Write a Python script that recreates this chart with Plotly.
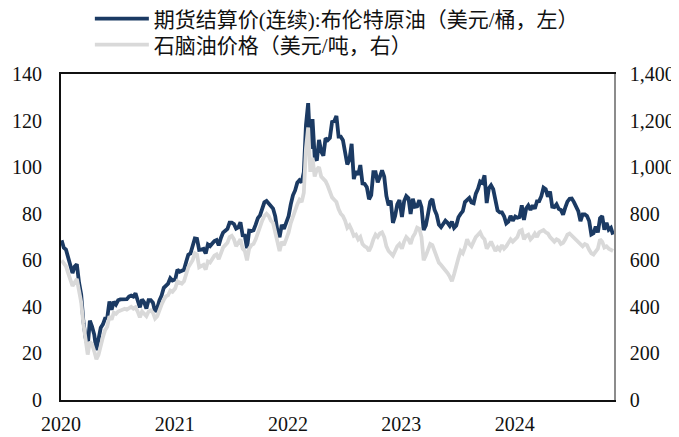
import pandas as pd
import plotly.graph_objects as go

# ---- Data (weekly readings from the chart) ----
brent_2020 = [68.6, 65.4, 64.6, 60.7, 58.2,
              54.5, 57.3, 58.3, 50.5,
              45.3, 33.9, 26.9, 23.0,
              34.1, 31.5, 28.1, 21.4, 26.4,
              31.0, 32.5, 35.1, 35.3,
              42.3, 38.7, 42.2, 41.0,
              42.8, 43.2, 43.1, 43.3, 43.3,
              44.4, 44.8, 44.4, 45.8,
              42.7, 39.8, 43.2, 41.9,
              39.3, 42.9, 42.9, 41.8, 37.9,
              39.5, 42.8, 44.9, 48.2,
              49.3, 50.0, 52.3, 51.3]
brent_2021 = [51.8, 56.0, 55.1, 55.4, 55.9,
              59.3, 62.4, 62.9, 66.1,
              69.4, 69.2, 64.5, 64.6,
              64.9, 62.9, 66.8, 66.1, 67.3,
              68.3, 68.7, 66.4, 69.6,
              71.9, 72.7, 73.5, 76.2,
              76.2, 75.6, 73.6, 74.1, 76.3,
              70.7, 70.6, 65.2, 72.7,
              72.6, 72.9, 75.3, 78.1,
              79.3, 82.4, 84.9, 85.5, 84.4,
              82.7, 82.2, 78.9, 72.7,
              69.9, 75.2, 73.5, 76.1]
brent_2022 = [79.0, 84.0, 87.9, 90.0,
              93.3, 94.4, 93.5, 97.9,
              118.1, 127.5, 107.9, 120.6, 104.4,
              102.8, 111.7, 106.7, 104.9,
              112.4, 111.6, 112.6, 119.4,
              119.7, 122.0, 113.1, 113.1, 111.6,
              107.0, 101.2, 103.2, 110.0,
              94.9, 98.2, 96.7, 100.9,
              93.0, 92.8, 91.4, 86.2, 88.0,
              97.9, 97.9, 93.5, 95.8,
              98.6, 95.9, 87.6, 83.6,
              85.6, 76.1, 79.0, 84.0, 85.9]
brent_2023 = [78.6, 85.3, 87.6, 86.7, 79.9, 86.4, 83.0, 83.2, 85.8, 82.8,
              73.0, 75.0, 79.8, 85.1, 86.3, 81.7, 79.5, 75.3, 74.2, 75.6,
              77.0, 76.1, 74.8, 76.6, 73.9, 74.9, 78.5, 79.9, 81.1, 85.0,
              86.2, 86.8, 84.8, 84.5, 88.6, 90.7, 93.9, 93.3, 96.5, 84.6,
              90.9, 92.2, 90.5, 84.9, 81.4, 80.6, 80.6, 78.9, 75.8, 76.6,
              79.1, 77.0]
brent_2024 = [78.8, 78.3, 78.6, 83.6, 77.3, 82.2, 83.5, 81.6, 83.6, 82.1,
              85.3, 85.4, 87.5, 91.2, 90.5, 87.3, 89.5, 83.0, 82.8, 84.0,
              82.1, 81.6, 79.6, 82.6, 85.2, 86.4, 86.5, 85.0, 82.6, 81.1,
              76.8, 79.7, 79.7, 79.0, 76.9, 71.1, 71.6, 74.5, 72.0, 78.1,
              79.0, 73.1, 76.1, 73.1, 73.9, 71.0]

naphtha_2020 = [600, 585, 575, 545, 520,
                490, 505, 520, 470,
                420, 330, 245, 195,
                250, 240, 210, 175, 195,
                240, 270, 300, 315,
                360, 345, 375, 370,
                380, 385, 390, 392, 388,
                395, 400, 392, 398,
                380, 355, 380, 370,
                360, 380, 385, 375, 350,
                360, 390, 410, 430,
                445, 450, 470, 465]
naphtha_2021 = [480, 510, 505, 500, 510,
                540, 570, 585, 600,
                630, 625, 570, 575,
                580, 560, 595, 590, 605,
                620, 625, 605, 630,
                655, 665, 675, 700,
                705, 690, 660, 675, 690,
                650, 640, 600, 650,
                665, 670, 690, 720,
                740, 770, 790, 800, 790,
                770, 760, 720, 670,
                640, 680, 665, 690]
naphtha_2022 = [720, 760, 790, 810,
                840, 860, 850, 890,
                1080, 1170, 980, 1040, 960,
                990, 1000, 960, 950,
                940, 920, 890, 870,
                860, 850, 820, 800, 790,
                770, 740, 750, 730,
                705, 710, 690, 700,
                670, 660, 655, 640, 660,
                690, 710, 700, 715,
                720, 700, 660, 640,
                630, 620, 640, 660, 670]
naphtha_2023 = [650, 680, 700, 690, 670, 700, 715, 740, 735, 700,
                600, 620, 650, 670, 665, 640, 620, 590, 580, 570,
                560, 545, 530, 510, 540, 580, 610, 640, 630, 655,
                690, 670, 660, 680, 700, 710, 720, 700, 690, 650,
                665, 680, 660, 640, 655, 645, 665, 650, 660, 675,
                690, 680]
naphtha_2024 = [690, 700, 725, 730, 690,
                705, 710, 690, 700,
                715, 700, 720, 725,
                730, 720, 715, 700, 690,
                680, 690, 685, 670,
                675, 690, 710, 715,
                705, 700, 690, 680, 670,
                660, 670, 665, 645,
                630, 625, 640, 650,
                690, 680, 655, 660, 650,
                645, 640]

years = [2020, 2021, 2022, 2023, 2024]
brent_by_year = [brent_2020, brent_2021, brent_2022, brent_2023, brent_2024]
naphtha_by_year = [naphtha_2020, naphtha_2021, naphtha_2022, naphtha_2023, naphtha_2024]

left_ticks = [0, 20, 40, 60, 80, 100, 120, 140]
right_ticks = [0, 200, 400, 600, 800, 1000, 1200, 1400]
x_ticks = ["2020-01-01", "2021-01-01", "2022-01-01", "2023-01-01", "2024-01-01"]
x_labels = ["2020", "2021", "2022", "2023", "2024"]

name_brent = "期货结算价(连续):布伦特原油（美元/桶，左）"
name_naphtha = "石脑油价格（美元/吨，右）"


def build(series_by_year):
    dates, vals = [], []
    for y, v in zip(years, series_by_year):
        d = pd.date_range(start=f"{y}-01-03", periods=len(v), freq="7D")
        dates.extend(d)
        vals.extend(v)
    return dates, vals


bx, by = build(brent_by_year)
nx, ny = build(naphtha_by_year)

fig = go.Figure()
fig.add_trace(go.Scatter(
    x=nx, y=ny, mode="lines", name=name_naphtha, yaxis="y2", legend="legend2",
    line=dict(color="#d9d9d9", width=3.8)))
fig.add_trace(go.Scatter(
    x=bx, y=by, mode="lines", name=name_brent, yaxis="y", legend="legend",
    line=dict(color="#1b3a63", width=3.8)))

tick_font = dict(family="Liberation Serif, Times New Roman, serif", size=20, color="#111111")
legend_font = dict(family="Liberation Serif, Noto Sans CJK SC", size=21, color="#111111")

W, H = 671, 429  # page adds an 8px body margin

fig.update_layout(
    width=W, height=H,
    margin=dict(l=53, r=65, t=66, b=37, autoexpand=False),
    paper_bgcolor="white", plot_bgcolor="white",
    showlegend=True,
    legend=dict(
        xref="container", yref="container",
        x=0.122, y=1 - 11 / H, xanchor="left", yanchor="middle",
        bgcolor="rgba(0,0,0,0)", font=legend_font, itemwidth=54,
    ),
    legend2=dict(
        xref="container", yref="container",
        x=0.122, y=1 - 37 / H, xanchor="left", yanchor="middle",
        bgcolor="rgba(0,0,0,0)", font=legend_font, itemwidth=54,
    ),
    xaxis=dict(
        type="date", range=["2020-01-01", "2024-11-16"],
        tickvals=x_ticks, ticktext=x_labels, automargin=False,
        showgrid=False, zeroline=False,
        showline=True, linecolor="#111111", linewidth=2, mirror=True,
        ticks="outside", ticklen=5, tickcolor="rgba(0,0,0,0)",
        tickfont=tick_font,
    ),
    yaxis=dict(
        range=[0, 140], tickvals=left_ticks, automargin=False,
        showgrid=False, zeroline=False,
        showline=True, linecolor="#111111", linewidth=2,
        ticks="outside", ticklen=13, tickcolor="rgba(0,0,0,0)",
        tickfont=tick_font,
    ),
    yaxis2=dict(
        range=[0, 1400], tickvals=right_ticks, tickformat=",", automargin=False,
        overlaying="y", side="right",
        showgrid=False, zeroline=False,
        showline=True, linecolor="#8c8c8c", linewidth=1.5,
        ticks="outside", ticklen=10, tickcolor="rgba(0,0,0,0)",
        tickfont=tick_font,
    ),
)

fig.write_html("out.html")
